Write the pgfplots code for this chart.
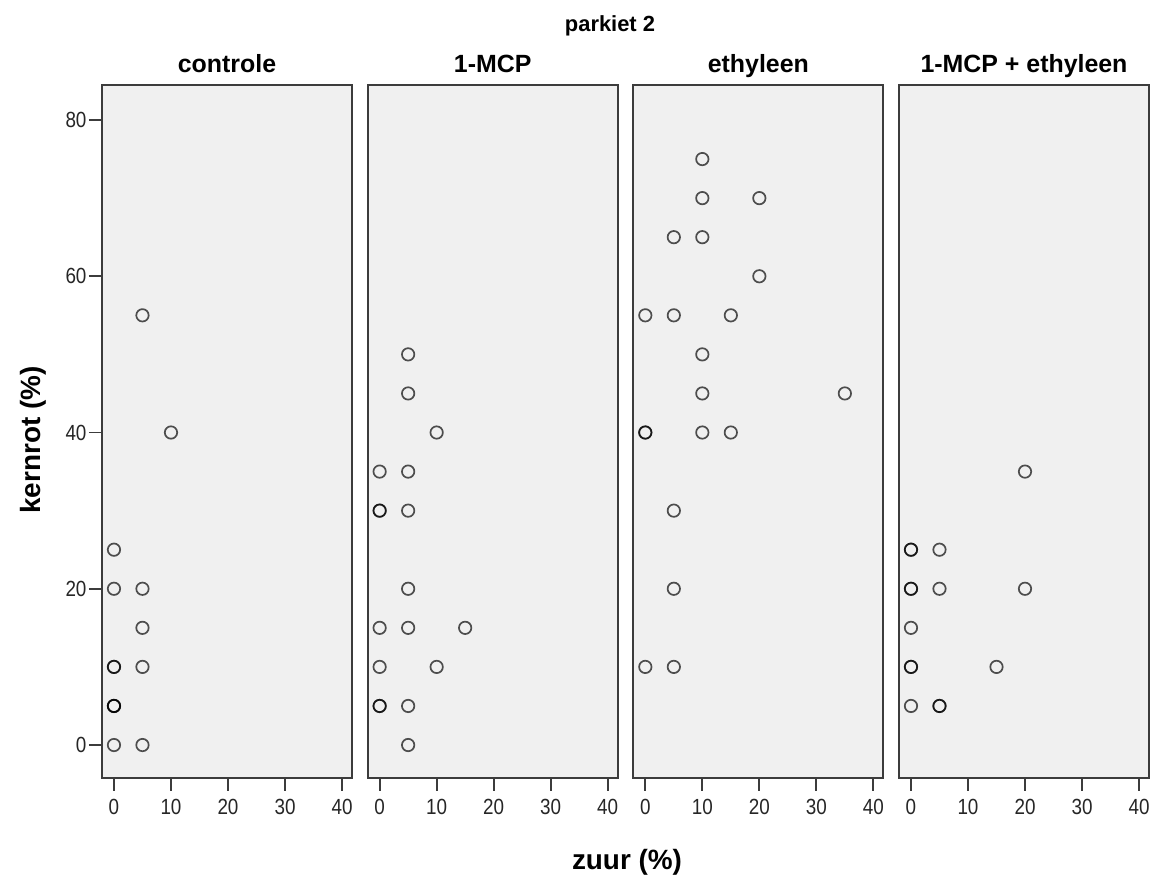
\documentclass[border=0pt]{standalone}
\usepackage{fontspec}
\setmainfont{Liberation Sans}
\newfontfamily\ticksfont[FakeStretch=0.86]{Liberation Sans}
\usepackage{pgfplots}
\usepackage{pgfplotstable}
\pgfplotsset{compat=1.18}

\definecolor{panelbg}{HTML}{F0F0F0}
\definecolor{framecol}{HTML}{3C3C3C}

% zuur (%) versus kernrot (%), one table per treatment
\pgfplotstableread{
x y
5 55
10 40
0 25
0 20
5 20
5 15
0 10
0 10
5 10
0 5
0 5
0 5
0 0
5 0
}\controle
\pgfplotstableread{
x y
5 50
5 45
10 40
0 35
5 35
0 30
0 30
5 30
5 20
0 15
5 15
15 15
0 10
10 10
0 5
0 5
5 5
5 0
}\mcp
\pgfplotstableread{
x y
10 75
10 70
20 70
5 65
10 65
20 60
0 55
5 55
15 55
10 50
10 45
35 45
0 40
0 40
10 40
15 40
5 30
5 20
0 10
5 10
}\ethyleen
\pgfplotstableread{
x y
20 35
0 25
0 25
5 25
0 20
0 20
5 20
20 20
0 15
0 10
0 10
15 10
0 5
5 5
5 5
}\mcpeth

\pgfplotsset{
  panel/.style={
    scale only axis, width=250bp, height=693bp,
    anchor=south west,
    xmin=-2.1, xmax=41.75, ymin=-4.22, ymax=84.48,
    axis background/.style={fill=panelbg},
    axis line style={draw=framecol, line width=1.8bp},
    xtick={0,10,20,30,40}, ytick={0,20,40,60,80},
    tick align=outside, major tick length=13bp,
    every tick/.style={draw=framecol, line width=1.8bp},
    xtick pos=bottom, ytick pos=left,
    /pgf/number format/assume math mode=true,
    tick label style={font=\ticksfont\fontsize{22}{26}\selectfont, text=black!85},
    xticklabel style={yshift=-5bp},
    yticklabel style={xshift=1bp},
    title style={font=\bfseries\fontsize{25}{30}\selectfont, at={(0.5,1)}, anchor=base, yshift=7bp},
  },
  pts/.style={only marks, mark=o, mark size=6.2bp,
    mark options={draw=black, draw opacity=0.68, line width=1.7bp}},
}

\begin{document}
\begin{tikzpicture}
\useasboundingbox (0,0) rectangle (1158bp,887bp);

\begin{axis}[panel, at={(102bp,109bp)}, title={controle}]
  \addplot[pts] table[x=x,y=y] {\controle};
\end{axis}

\begin{axis}[panel, at={(367.67bp,109bp)}, title={1-MCP}, ytick=\empty]
  \addplot[pts] table[x=x,y=y] {\mcp};
\end{axis}

\begin{axis}[panel, at={(633.33bp,109bp)}, title={ethyleen}, ytick=\empty]
  \addplot[pts] table[x=x,y=y] {\ethyleen};
\end{axis}

\begin{axis}[panel, at={(899bp,109bp)}, title={1-MCP + ethyleen}, ytick=\empty]
  \addplot[pts] table[x=x,y=y] {\mcpeth};
\end{axis}

\node[anchor=base, font=\bfseries\fontsize{22}{26}\selectfont] at (610bp,855bp) {parkiet 2};
\node[font=\bfseries\fontsize{28}{34}\selectfont] at (627bp,25bp) {zuur (\%)};
\node[rotate=90, font=\bfseries\fontsize{28}{34}\selectfont] at (33bp,447bp) {kernrot (\%)};
\end{tikzpicture}
\end{document}
